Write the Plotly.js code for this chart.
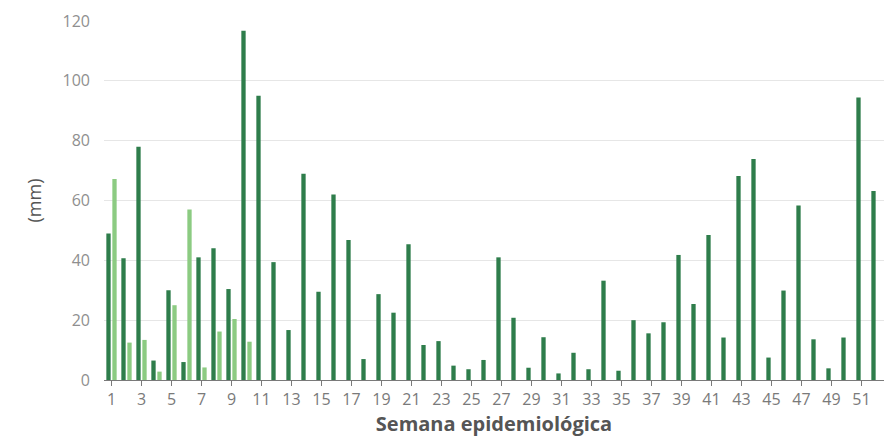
<!DOCTYPE html>
<html>
<head>
<meta charset="utf-8">
<script src="https://cdn.plot.ly/plotly-3.0.1.min.js"></script>
<style>html,body{margin:0;padding:0;background:#fff;}#chart{width:884px;height:437px;}</style>
</head>
<body>
<div id="chart"></div>
<script>
const weeks = Array.from({length: 52}, (_, i) => i + 1);
const darkValues = [49, 40.7, 78, 6.5, 30, 6, 41, 44, 30.4, 116.7,
  95, 39.4, 16.7, 68.9, 29.5, 62, 46.8, 7, 28.7, 22.5,
  45.4, 11.7, 13, 4.8, 3.6, 6.7, 41, 20.8, 4.1, 14.3,
  2.2, 9.1, 3.6, 33.2, 3.1, 20, 15.6, 19.3, 41.8, 25.4,
  48.5, 14.2, 68.2, 73.9, 7.5, 29.9, 58.3, 13.6, 3.9, 14.2,
  94.4, 63.2];
const lightValues = [67.2, 12.5, 13.4, 2.8, 25, 57, 4.2, 16.2, 20.4, 12.8];
const tickValues = [1,3,5,7,9,11,13,15,17,19,21,23,25,27,29,31,33,35,37,39,41,43,45,47,49,51];
const yTicks = [0, 20, 40, 60, 80, 100, 120];

const lightY = weeks.map((w, i) => i < lightValues.length ? lightValues[i] : null);

const traces = [
  {type: 'bar', x: weeks, y: darkValues, name: 'A', marker: {color: '#2e7d4b'}, hoverinfo: 'x+y'},
  {type: 'bar', x: weeks, y: lightY, name: 'B', marker: {color: '#8ccb82'}, hoverinfo: 'x+y'}
];

const layout = {
  width: 884, height: 437,
  margin: {l: 104, r: 0, t: 21, b: 57},
  paper_bgcolor: '#fff', plot_bgcolor: '#fff',
  barmode: 'group', bargap: 0.2, bargroupgap: 0.28,
  showlegend: false,
  font: {family: '"Open Sans", sans-serif', color: '#666'},
  xaxis: {
    range: [0.5, 52.5], tickvals: tickValues, ticktext: tickValues.map(String),
    ticks: 'outside', ticklen: 5, tickcolor: '#7a7a7a', tickwidth: 1,
    showline: true, linecolor: '#7a7a7a', linewidth: 1,
    showgrid: false, zeroline: false,
    tickfont: {size: 16, color: '#7a7a7a'},
    title: {text: 'Semana epidemiológica', font: {size: 20, color: '#555', weight: 'bold'}, standoff: 7}
  },
  yaxis: {
    range: [0, 120], tickvals: yTicks,
    showgrid: true, gridcolor: '#e6e6e6', gridwidth: 1, zeroline: false,
    showline: false, ticks: '', ticklabelstandoff: 13,
    tickfont: {size: 16, color: '#8f8f8f'},
    title: {text: '(mm)', font: {size: 18, color: '#555'}, standoff: 16}
  }
};

Plotly.newPlot('chart', traces, layout, {displayModeBar: false, staticPlot: true});
</script>
</body>
</html>
